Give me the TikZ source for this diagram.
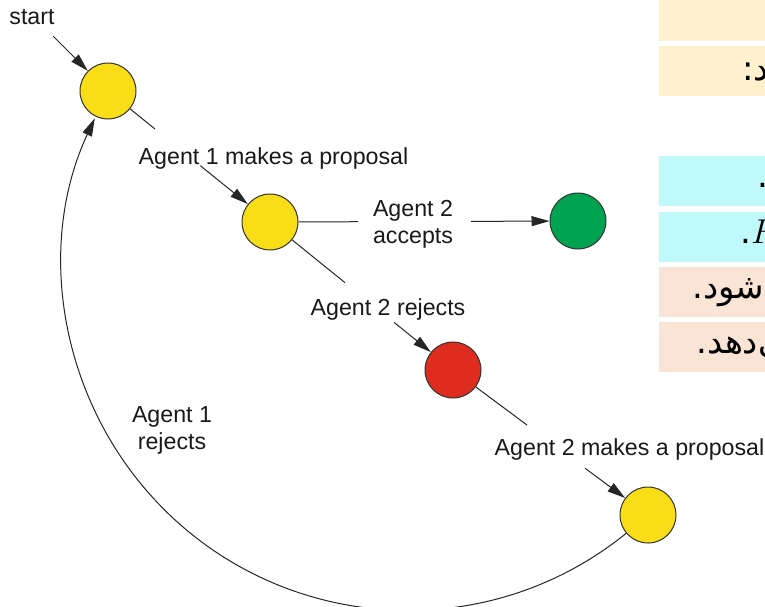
\documentclass[tikz,border=0pt]{standalone}
\usepackage{fontspec}
\setmainfont{Liberation Sans}
\newfontfamily\farsifont[Script=Arabic]{DejaVu Sans}
\TeXXeTstate=1
\usetikzlibrary{arrows.meta, calc}

\definecolor{stateyellow}{RGB}{249,221,22}
\definecolor{stategreen}{RGB}{0,163,80}
\definecolor{statered}{RGB}{222,44,30}
\definecolor{boxcream}{RGB}{255,241,206}
\definecolor{boxcyan}{RGB}{192,249,249}
\definecolor{boxpeach}{RGB}{250,228,214}

\begin{document}
\begin{tikzpicture}[x=0.5pt, y=-0.5pt,
	stnode/.style={circle, draw=black!80, line width=0.5pt,
		minimum size=28pt, inner sep=0pt},
	lab/.style={font=\fontsize{11.6}{13.5}\selectfont, align=center,
		inner sep=0pt, text=black!90},
	conn/.style={line width=0.5pt, draw=black!85},
	arr/.style={conn, -{Triangle[length=9pt, width=5pt]}},
	fa/.style={font=\fontsize{17}{20}\farsifont, anchor=base west,
		inner sep=0pt, text=black}]

\useasboundingbox (0,0) rectangle (765,606);
\clip (0,0) rectangle (765,606);

% the boxes cut by the right edge
\fill[boxcream] (659,-5) rectangle (800,41);
\fill[boxcream] (659,46) rectangle (800,96);
\fill[boxcyan] (659,156) rectangle (800,206);
\fill[boxcyan] (659,212) rectangle (800,262);
\fill[boxpeach] (659,267) rectangle (800,317);
\fill[boxpeach] (659,322) rectangle (800,372);

\node[fa] (t2) at (742,80) {\beginR د:\endR};
\node[fa] (t3) at (757,187) {.};
\node[fa] (t4) at (740,243) {\beginR\beginL$F$\endL.\endR};
\node[fa] (t5) at (692,298) {\beginR می‌شود.\endR};
\node[fa] (t6) at (696,353) {\beginR می‌دهد.\endR};

% states
\node[stnode, fill=stateyellow] (c1) at (108,91) {};
\node[stnode, fill=stateyellow] (c2) at (270,222) {};
\node[stnode, fill=stategreen] (c3) at (578,221) {};
\node[stnode, fill=statered] (c4) at (453,370) {};
\node[stnode, fill=stateyellow] (c5) at (648,515) {};

% labels
\node[lab, anchor=base] (lstart) at (32,24) {start};
\coordinate (s0) at (53,36);
\node[lab, anchor=base] (l12) at (273.5,164) {Agent 1 makes a proposal};
\node[lab] (l23) at (413,224) {Agent 2\\accepts};
\node[lab, anchor=base] (l24) at (388,315) {Agent 2 rejects};
\node[lab, anchor=base] (l45) at (629.5,455) {Agent 2 makes a proposal};
\node[lab] (l51) at (172,430) {Agent 1\\rejects};

% transitions
\draw[arr] (s0) -- (c1);

\draw[conn] (c1) -- ($(c1)!.29!(c2)$);
\draw[arr] ($(c1)!.57!(c2)$) -- (c2);

\draw[conn] (c2) -- ($(c2)!.286!(c3)$);
\draw[arr] ($(c2)!.653!(c3)$) -- (c3);

\draw[conn] (c2) -- ($(c2)!.41!(c4)$);
\draw[arr] ($(c2)!.678!(c4)$) -- (c4);

\draw[conn] (c4) -- ($(c4)!.38!(c5)$);
\draw[arr] ($(c4)!.677!(c5)$) -- (c5);

\draw[arr] (c5.220) arc[start angle=-51, end angle=-205, radius=173pt];

\end{tikzpicture}
\end{document}
